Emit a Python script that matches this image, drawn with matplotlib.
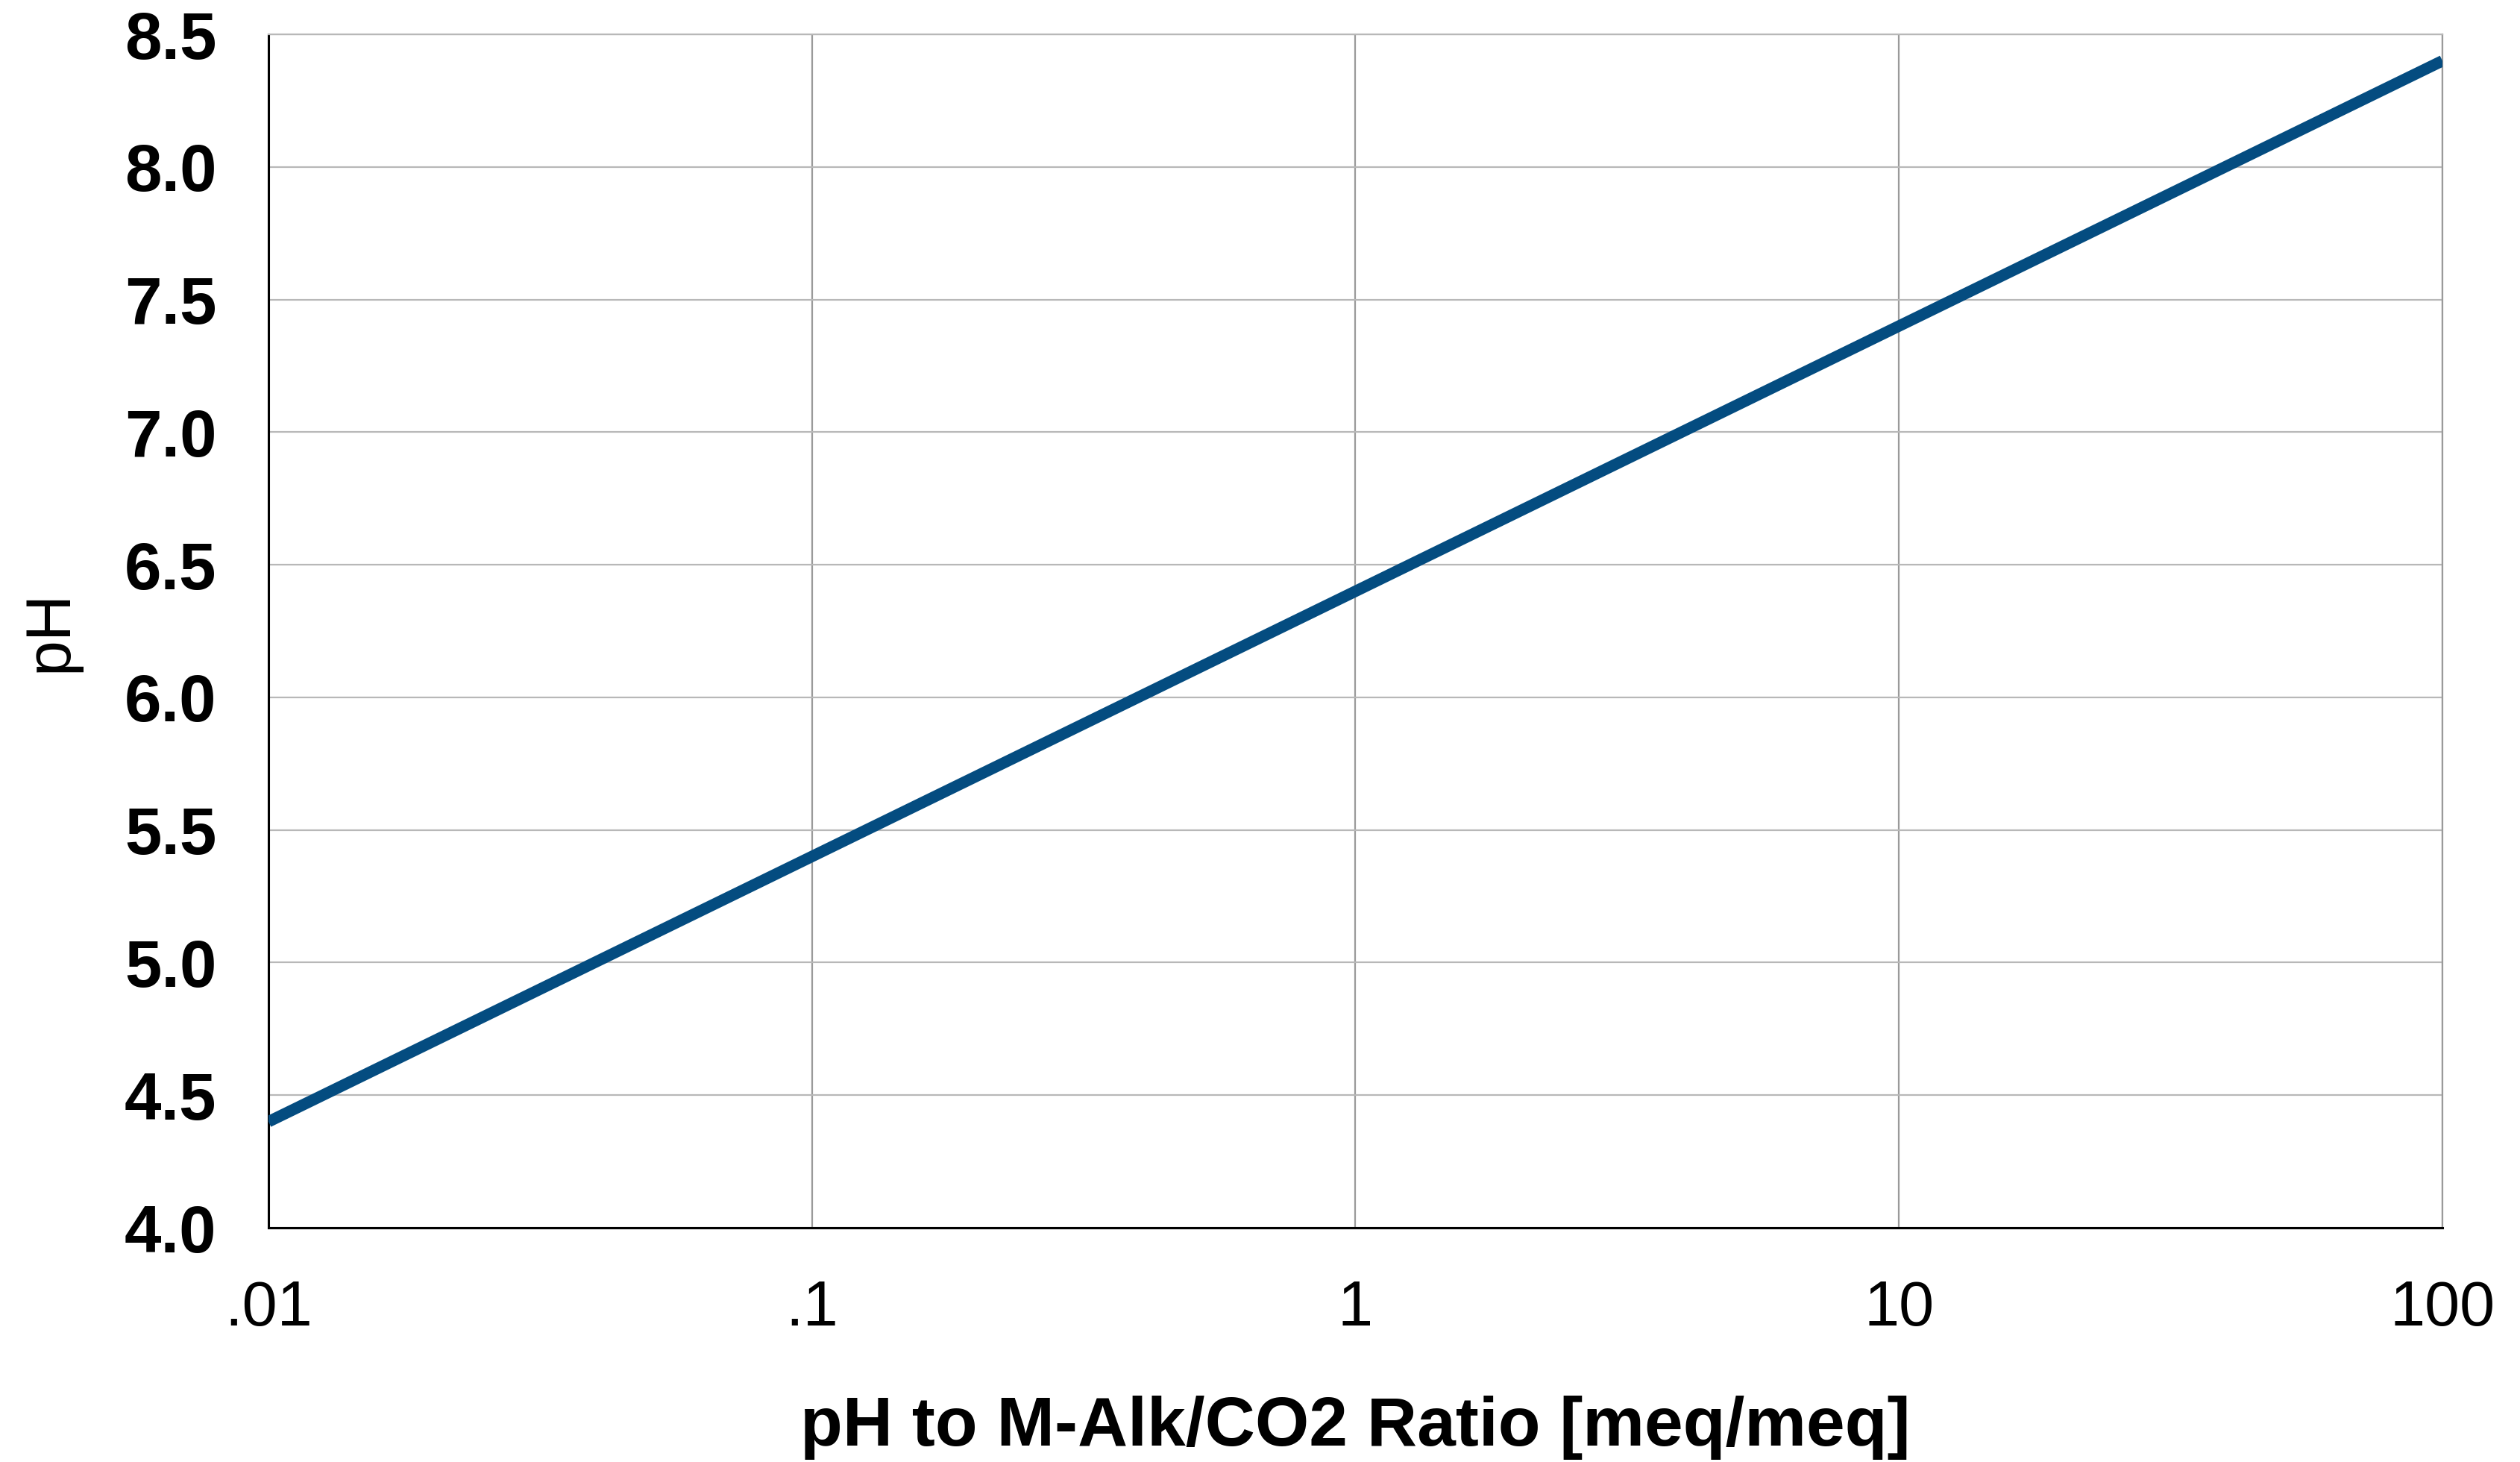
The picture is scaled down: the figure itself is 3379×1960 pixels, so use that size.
import matplotlib
matplotlib.use("Agg")
import matplotlib.pyplot as plt
from matplotlib.ticker import FixedLocator, FixedFormatter, NullLocator

# Data
ratio = [0.01, 0.1, 1, 10, 100]
ph = [4.4, 5.4, 6.4, 7.4, 8.4]
x_ticks = [0.01, 0.1, 1, 10, 100]
x_tick_labels = [".01", ".1", "1", "10", "100"]
y_ticks = [4.0, 4.5, 5.0, 5.5, 6.0, 6.5, 7.0, 7.5, 8.0, 8.5]

plt.rcParams['font.family'] = ['Liberation Sans', 'DejaVu Sans']

DPI = 100
fig = plt.figure(figsize=(33.8, 19.6), dpi=DPI)
ax = fig.add_axes([360/3380, 1 - 1646/1960, (3275-360)/3380, 1600/1960])

ax.plot(ratio, ph, color='#044c80', linewidth=11, solid_capstyle='butt', zorder=3)

ax.set_xscale('log')
ax.set_xlim(0.01, 100)
ax.set_ylim(4.0, 8.5)

ax.xaxis.set_major_locator(FixedLocator(x_ticks))
ax.xaxis.set_major_formatter(FixedFormatter(x_tick_labels))
ax.xaxis.set_minor_locator(NullLocator())
ax.set_yticks(y_ticks)
ax.set_yticklabels([f"{v:.1f}" for v in y_ticks])

ax.tick_params(axis='both', length=0)
ax.tick_params(axis='x', pad=50, labelsize=61)
ax.tick_params(axis='y', pad=50, labelsize=64)
for lab in ax.get_yticklabels():
    lab.set_fontweight('bold')

ax.grid(axis='y', color='#b8b8b8', linewidth=1.6, zorder=1)
ax.grid(axis='x', color='#9a9a9a', linewidth=1.6, zorder=1)

for s in ['left', 'bottom']:
    ax.spines[s].set_color('black')
    ax.spines[s].set_linewidth(2.2)
ax.spines['top'].set_color('#b8b8b8')
ax.spines['top'].set_linewidth(1.6)
ax.spines['right'].set_color('#9a9a9a')
ax.spines['right'].set_linewidth(1.6)

ax.set_xlabel("pH to M-Alk/CO2 Ratio [meq/meq]", fontsize=67, fontweight='bold', va='baseline')
ax.xaxis.set_label_coords(0.5, -0.1825)
ax.set_ylabel("pH", fontsize=62, va='center')
ax.yaxis.set_label_coords(-0.1005, 0.5)

fig.savefig("out.png", dpi=DPI, facecolor='white')
